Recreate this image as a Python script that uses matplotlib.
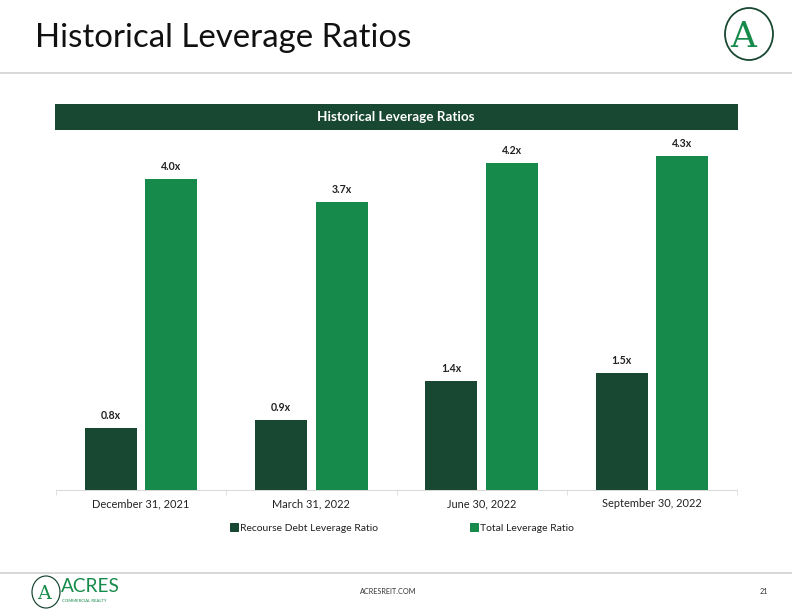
import matplotlib
matplotlib.use('Agg')
import matplotlib.pyplot as plt
from matplotlib.patches import Rectangle, Ellipse, Patch
from matplotlib.lines import Line2D

plt.rcParams['font.family'] = ['Lato', 'DejaVu Sans']

# data
categories = ["December 31, 2021", "March 31, 2022", "June 30, 2022", "September 30, 2022"]
recourse = [0.8, 0.9, 1.4, 1.5]
total = [4.0, 3.7, 4.2, 4.3]
series_names = ["Recourse Debt Leverage Ratio", "Total Leverage Ratio"]

DARK = '#184832'
GREEN = '#168a4a'
TEXT = '#222222'

W, H = 792, 612
fig = plt.figure(figsize=(W / 72, H / 72), dpi=72)


def fx(px):
    return px / W


def fy(py):
    return 1 - py / H


# slide title and separators
fig.text(fx(35), fy(38), "Historical Leverage Ratios", fontsize=33, color='#111111',
         ha='left', va='center')
fig.add_artist(Line2D([0, 1], [fy(73), fy(73)], color='#d9d9d9', lw=2))
fig.add_artist(Line2D([0, 1], [fy(573), fy(573)], color='#d9d9d9', lw=2))

# top-right logo
fig.add_artist(Ellipse((fx(749), fy(34)), fx(48), 52 / H, fill=False,
                       edgecolor=DARK, lw=1.8))
fig.text(fx(743), fy(37), "A", fontsize=36, family='DejaVu Serif', color=GREEN,
         ha='center', va='center')

# chart header band
fig.add_artist(Rectangle((fx(55), fy(130)), fx(683), 26 / H, facecolor=DARK,
                         edgecolor='none'))
fig.text(fx(396), fy(117), "Historical Leverage Ratios", fontsize=13.5, color='white',
         fontweight='bold', ha='center', va='center')

# bar chart
ax = fig.add_axes([fx(56), fy(490), fx(681), (490 - 140) / H])
x = range(len(categories))
bw = 0.305
off = 0.178
b1 = ax.bar([i - off for i in x], recourse, bw, color=DARK)
b2 = ax.bar([i + off for i in x], total, bw, color=GREEN)
for bars, vals in ((b1, recourse), (b2, total)):
    for rect, v in zip(bars, vals):
        ax.annotate(f"{v:.1f}x", (rect.get_x() + rect.get_width() / 2, v),
                    xytext=(0, 7), textcoords='offset points', ha='center',
                    va='bottom', fontsize=10.5, fontweight='bold', color=TEXT)

ax.set_xlim(-0.5, len(categories) - 0.5)
ax.set_ylim(0, 4.5)
ax.set_yticks([])
for s in ('top', 'right', 'left'):
    ax.spines[s].set_visible(False)
ax.spines['bottom'].set_color('#d0d0d0')
ax.set_xticks(list(x))
ax.set_xticklabels(categories, fontsize=11, color=TEXT)
ax.tick_params(axis='x', which='major', length=0, pad=8)
ax.set_xticks([i - 0.5 for i in range(len(categories) + 1)], minor=True)
ax.tick_params(axis='x', which='minor', length=5, color='#d0d0d0')

handles = [Patch(color=DARK), Patch(color=GREEN)]
fig.legend(handles, series_names, loc='center', bbox_to_anchor=(fx(402), fy(528)),
           ncol=2, frameon=False, fontsize=10.4, handlelength=0.75, handleheight=0.75,
           handletextpad=0.2, columnspacing=8.9, labelcolor=TEXT)

# footer
fig.add_artist(Ellipse((fx(46), fy(592)), fx(28), 32 / H, fill=False,
                       edgecolor=DARK, lw=1.2))
fig.text(fx(44), fy(594), "A", fontsize=19, family='DejaVu Serif', color=GREEN,
         ha='center', va='center')
fig.text(fx(61), fy(587), "ACRES", fontsize=19, color=GREEN, ha='left', va='center')
fig.text(fx(62), fy(601), "COMMERCIAL REALTY", fontsize=4.3, color=GREEN, ha='left',
         va='center')
fig.text(fx(388), fy(592), "ACRESREIT.COM", fontsize=7.2, color='#333333',
         ha='center', va='center')
fig.text(fx(764), fy(592), "21", fontsize=7.2, color='#333333', ha='center',
         va='center')

fig.savefig('out.png', dpi=72)
